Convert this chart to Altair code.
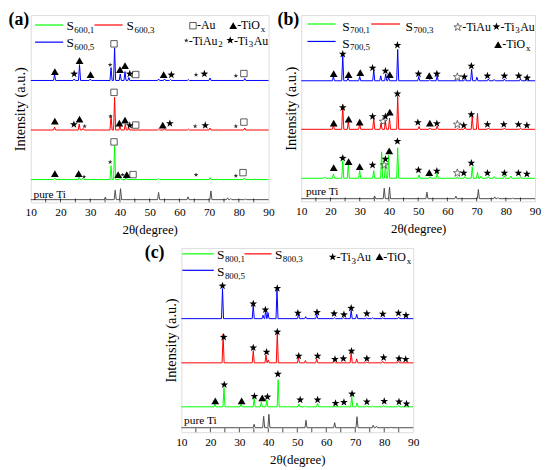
import altair as alt
import pandas as pd

# ================= data =================
# 2θ of the pure-Ti reference peaks (same reference pattern in every panel)
TI_PEAKS = [35.1, 38.4, 40.2, 53.0, 62.9, 70.6, 76.2, 77.3, 82.3]

# ---------- panel (a) ----------
A_TI_BASE = 2.7
A_TI_TOP = [5.3, 12.3, 13.8, 10.0, 5.5, 11.5, 4.5, 3.8, 3.3]
A1_BASE = 23.0
A1_PEAKS = [18.0, 26.3, 27.5, 37.0, 38.2, 40.1, 42.0, 53.0, 70.3, 81.8]
A1_TOP = [24.5, 25.5, 24.3, 37.0, 57.0, 25.0, 25.0, 24.0, 25.0, 24.5]
A3_BASE = 73.0
A3_PEAKS = [18.0, 26.3, 27.6, 37.0, 38.2, 40.0, 41.8, 43.0, 53.0, 55.0, 63.0, 70.3, 82.0]
A3_TOP = [76.0, 79.0, 74.5, 88.0, 106.0, 77.5, 79.0, 75.0, 74.0, 74.5, 74.0, 75.0, 75.0]
A5_BASE = 123.0
A5_PEAKS = [18.0, 24.6, 26.4, 30.0, 37.0, 38.2, 40.1, 41.7, 43.0, 53.0, 55.0, 57.0, 63.0, 70.3, 82.0]
A5_TOP = [129.0, 124.5, 139.0, 124.5, 136.0, 156.0, 129.5, 132.0, 126.0, 124.5, 124.5, 124.0, 124.0, 125.5, 125.0]

A1_MK_X = [18.1, 26.1, 27.9, 36.7, 38.0, 39.4, 40.9, 42.3, 44.4, 65.6, 79.0, 81.4]
A1_MK_Y = [29, 29, 26, 41, 61, 28, 28, 28, 28, 28, 27, 30]
A1_MK_P = ["TiOx", "TiOx", "TiAu2", "TiAu2", "Au", "TiOx", "TiAu2", "TiOx", "Au", "TiAu2", "TiAu2", "Au"]
A3_MK_X = [18.1, 24.5, 26.4, 28.1, 36.8, 38.0, 39.8, 41.7, 43.3, 45.3, 54.4, 56.8, 65.3, 68.7, 79.0, 81.7]
A3_MK_Y = [82, 79, 84, 77, 87, 111, 80, 83, 78, 78, 78, 80, 77, 78, 77, 81]
A3_MK_P = ["TiOx", "Ti3Au", "TiOx", "TiAu2", "TiAu2", "Au", "TiOx", "TiOx", "Ti3Au", "Au",
           "TiOx", "Ti3Au", "TiAu2", "Ti3Au", "TiAu2", "Au"]
A5_MK_X = [18.1, 24.6, 26.4, 30.1, 36.7, 38.0, 40.0, 41.7, 43.3, 45.3, 54.7, 57.3, 65.6, 68.4, 79.0, 81.7]
A5_MK_Y = [132, 130, 143, 129, 139, 160, 134, 138, 130, 129, 129, 129, 129, 130, 128, 130]
A5_MK_P = ["TiOx", "Ti3Au", "TiOx", "TiOx", "TiAu2", "Au", "TiOx", "TiOx", "Ti3Au", "Au",
           "TiOx", "Ti3Au", "TiAu2", "Ti3Au", "TiAu2", "Au"]

# ---------- panel (b) ----------
B_TI_BASE = 2.7
B_TI_TOP = [5.5, 13.3, 14.3, 9.3, 5.3, 12.0, 4.5, 3.8, 3.3]
B1_BASE = 23.3
B1_PEAKS = [18.0, 21.0, 24.2, 26.1, 30.0, 34.8, 37.5, 38.8, 39.9, 43.0, 50.3, 54.0, 56.5,
            63.5, 66.0, 68.5, 70.3, 71.5, 74.0, 76.0, 79.5, 81.7, 85.0]
B1_TOP = [24.5, 27.7, 41.0, 37.7, 31.0, 31.0, 50.0, 37.0, 46.7, 54.0, 26.7, 25.0, 28.7,
          25.0, 25.0, 35.0, 29.3, 25.5, 25.0, 25.0, 26.0, 25.5, 25.0]
B3_BASE = 72.7
B3_PEAKS = [21.0, 24.2, 26.1, 30.0, 34.8, 37.3, 38.8, 40.2, 43.0, 50.3, 54.0, 56.5, 63.5,
            66.0, 68.5, 70.3, 74.0, 79.5, 85.0]
B3_TOP = [77.7, 97.7, 81.0, 78.7, 84.3, 78.7, 81.0, 84.0, 106.0, 75.5, 74.0, 76.0, 73.5,
          74.0, 86.0, 88.7, 74.0, 74.0, 74.0]
B5_BASE = 121.7
B5_PEAKS = [21.0, 24.2, 26.0, 30.0, 34.8, 37.2, 38.9, 39.9, 43.0, 50.2, 54.0, 56.5, 63.5,
            66.0, 68.3, 70.1, 74.0, 76.0, 79.5, 85.0, 87.0]
B5_TOP = [126.0, 147.0, 124.3, 126.0, 132.7, 126.7, 128.7, 125.0, 153.3, 126.0, 123.0, 126.7,
          122.5, 123.0, 133.3, 125.3, 123.5, 123.0, 123.5, 123.5, 122.5]

B1_MK_X = [21.1, 24.2, 26.2, 30.0, 34.4, 38.4, 38.8, 40.1, 42.9, 50.1, 53.8, 56.4, 63.4,
           65.6, 68.2, 73.7, 79.5, 84.3, 87.2]
B1_MK_Y = [34, 44, 40, 35, 37, 37, 43, 51, 61, 32, 29, 31, 29, 29, 39, 29, 29, 29, 28]
B1_MK_P = ["TiOx", "Ti3Au", "TiOx", "TiOx", "Ti3Au", "TiAu", "Ti3Au", "TiOx", "Ti3Au", "Ti3Au",
           "TiOx", "Ti3Au", "TiAu", "Ti3Au", "Ti3Au", "Ti3Au", "Ti3Au", "Ti3Au", "Ti3Au"]
B3_MK_X = [21.1, 24.2, 26.2, 30.0, 34.4, 38.0, 38.8, 40.3, 42.9, 49.9, 54.0, 56.4, 63.4,
           65.6, 68.2, 73.7, 79.3, 84.3, 87.2]
B3_MK_Y = [79, 95, 83, 80, 86, 81, 86, 90, 109, 80, 79, 79, 78, 77, 88, 78, 78, 78, 77]
B3_MK_P = ["TiOx", "Ti3Au", "TiOx", "TiOx", "Ti3Au", "TiAu", "Ti3Au", "TiOx", "Ti3Au", "Ti3Au",
           "TiOx", "Ti3Au", "TiAu", "Ti3Au", "Ti3Au", "Ti3Au", "Ti3Au", "Ti3Au", "Ti3Au"]
B5_MK_X = [21.1, 24.2, 26.2, 30.2, 34.4, 38.8, 40.3, 42.9, 50.1, 53.8, 56.4, 63.4, 65.8,
           68.2, 73.7, 79.5, 84.4, 87.3]
B5_MK_Y = [129, 149, 128, 130, 135, 132, 128, 158, 129, 127, 129, 126, 126, 137, 127, 127, 127, 125]
B5_MK_P = ["TiOx", "Ti3Au", "TiOx", "TiOx", "Ti3Au", "Ti3Au", "TiOx", "Ti3Au", "Ti3Au", "TiOx",
           "Ti3Au", "TiAu", "Ti3Au", "Ti3Au", "Ti3Au", "Ti3Au", "Ti3Au", "Ti3Au"]

# ---------- panel (c) ----------
C_TI_BASE = 4.5
C_TI_TOP = [8.0, 16.0, 18.0, 12.0, 9.6, 15.6, 7.0, 6.0, 5.0]
C1_BASE = 25.6
C1_PEAKS = [21.6, 24.7, 30.6, 35.1, 37.6, 39.5, 43.4, 50.6, 52.8, 57.0, 63.0, 66.0, 68.8,
            70.6, 74.0, 76.0, 79.8, 85.0]
C1_TOP = [28.3, 45.0, 28.3, 34.0, 30.6, 32.3, 53.0, 28.3, 26.3, 29.0, 26.0, 26.0, 36.3,
          29.6, 26.6, 26.5, 27.0, 27.0]
C3_BASE = 70.0
C3_PEAKS = [24.4, 34.8, 39.2, 40.0, 43.1, 50.4, 52.8, 56.7, 62.8, 68.6, 70.5, 74.0, 79.5, 85.0]
C3_TOP = [99.0, 82.3, 78.0, 73.0, 100.6, 75.0, 72.3, 74.0, 71.0, 80.6, 74.0, 71.0, 71.5, 71.5]
C5_BASE = 114.6
C5_PEAKS = [24.2, 34.8, 38.2, 39.1, 39.9, 43.0, 50.4, 52.9, 56.7, 62.8, 66.0, 68.6, 70.5,
            74.0, 76.0, 79.5, 85.0]
C5_TOP = [145.0, 128.0, 118.0, 123.3, 120.6, 144.0, 119.0, 116.6, 119.0, 115.5, 115.5, 123.0,
          119.0, 115.5, 115.5, 115.5, 116.0]

C1_MK_X = [21.7, 24.8, 30.8, 35.2, 37.9, 39.7, 43.3, 51.0, 57.0, 63.2, 66.1, 68.9, 74.0, 80.0, 85.1, 87.7]
C1_MK_Y = [31.6, 48.3, 31.6, 36.6, 34.6, 36.0, 59.0, 33.0, 33.0, 29.6, 30.6, 39.0, 31.0, 31.6, 31.0, 29.0]
C1_MK_P = ["TiOx", "Ti3Au", "TiOx", "Ti3Au", "TiOx", "Ti3Au", "Ti3Au", "Ti3Au", "Ti3Au",
           "Ti3Au", "Ti3Au", "Ti3Au", "Ti3Au", "Ti3Au", "Ti3Au", "Ti3Au"]
C3_MK_X = [24.6, 34.8, 39.4, 43.1, 50.5, 57.0, 63.0, 65.9, 68.7, 74.0, 79.8, 85.1, 87.4]
C3_MK_Y = [96.3, 85.6, 81.3, 101.6, 77.3, 77.3, 74.0, 74.6, 82.3, 74.6, 75.6, 74.6, 74.0]
C3_MK_P = ["Ti3Au"] * 13
C5_MK_X = [24.2, 34.8, 39.0, 43.1, 50.2, 56.8, 62.7, 66.1, 68.6, 74.0, 79.5, 84.9, 87.5]
C5_MK_Y = [148.0, 130.0, 124.0, 145.6, 120.6, 121.3, 120.0, 119.0, 125.6, 120.0, 119.6, 120.6, 118.3]
C5_MK_P = ["Ti3Au"] * 13

X_TICKS = [10, 20, 30, 40, 50, 60, 70, 80, 90]
MINOR_TICKS = [15, 20, 25, 30, 35, 40, 45, 50, 55, 60, 65, 70, 75, 80, 85]

# ================= styling / layout =================
FONT = "Liberation Serif"
HW = 0.35  # half width of a drawn diffraction line (degrees)
COLOR = alt.Scale(domain=["s1", "s3", "s5", "ti"],
                  range=["#00ff00", "#ff0000", "#0000ff", "#4d4d4d"])
STAR = ("M0,-0.905L0.235,-0.229L0.951,-0.214L0.38,0.219L0.588,0.904L0,0.495"
        "L-0.588,0.904L-0.38,0.219L-0.951,-0.214L-0.235,-0.229Z")
PHASE_STYLE = {
    "TiOx": dict(shape="triangle-up", size=62, filled=True, color="black"),
    "Ti3Au": dict(shape=STAR, size=68, filled=True, color="black"),
    "TiAu2": dict(shape=STAR, size=24, filled=True, color="#333333"),
    "Au": dict(shape="square", size=42, filled=False, color="#333333", strokeWidth=0.8),
    "TiAu": dict(shape=STAR, size=68, filled=False, color="#333333", strokeWidth=0.7),
}
CW = {"S": 0.556, ",": 0.25, "-": 0.333, "T": 0.611, "i": 0.278, "A": 0.722,
      "u": 0.5, "O": 0.722, "x": 0.5, " ": 0.25}
LEG_FS, SUB_FS, PH_FS, SUB_DROP = 13.5, 9.0, 12.0, 2.6

LAYOUT = {
    "a": dict(W=240, H=189, tag="(a)", tag_pos=(-1.5, 10.5), temp="600",
              lines=[("s1", 4.3, 32.7, 10.0), ("s3", 64.3, 92.7, 10.0), ("s5", 4.3, 32.7, 27.3)],
              labels=[("1", 36.0, 15.0), ("3", 96.7, 15.0), ("5", 36.0, 32.3)],
              phases=[("Au", 163.7, 10.7, 167.7, 14.5, [("-Au", False)]),
                      ("TiOx", 204.3, 10.7, 208.3, 14.5, [("-TiO", False), ("x", True)]),
                      ("TiAu2", 157.0, 25.5, 159.5, 29.8, [("-TiAu", False), ("2", True)]),
                      ("Ti3Au", 201.3, 25.0, 205.0, 29.8, [("-Ti", False), ("3", True), ("Au", False)])],
              pure=(2.7, 184.3)),
    "b": dict(W=236, H=188, tag="(b)", tag_pos=(-2.0, 9.8), temp="700",
              lines=[("s1", 6.3, 34.7, 9.0), ("s3", 70.7, 99.7, 9.0), ("s5", 6.3, 34.7, 26.6)],
              labels=[("1", 41.3, 15.6), ("3", 105.3, 15.6), ("5", 41.3, 33.0)],
              phases=[("TiAu", 158.0, 11.8, 162.5, 15.6, [("-TiAu", False)]),
                      ("Ti3Au", 197.0, 11.3, 201.0, 15.6, [("-Ti", False), ("3", True), ("Au", False)]),
                      ("TiOx", 198.7, 29.7, 203.0, 33.3, [("-TiO", False), ("x", True)])],
              pure=(4.7, 181.6)),
    "c": dict(W=234, H=186, tag="(c)", tag_pos=(-17.0, 10.3), temp="800",
              lines=[("s1", 1.0, 32.7, 6.0), ("s3", 63.7, 91.0, 6.0), ("s5", 1.0, 32.7, 22.6)],
              labels=[("1", 36.0, 11.6), ("3", 94.4, 11.6), ("5", 36.0, 28.3)],
              phases=[("Ti3Au", 152.7, 8.8, 156.7, 13.3, [("-Ti", False), ("3", True), ("Au", False)]),
                      ("TiOx", 200.0, 8.8, 203.7, 13.3, [("-TiO", False), ("x", True)])],
              pure=(2.7, 177.6)),
}

XAXIS = alt.Axis(values=X_TICKS, format="d", labelFont=FONT, labelFontSize=11.5,
                 labelColor="black", labelPadding=4, labelFlush=False, labelOverlap=False,
                 ticks=False, domain=False, grid=False, title="2θ(degree)", titleFont=FONT,
                 titleFontSize=13, titleFontWeight="normal", titleColor="black", titlePadding=6)
YAXIS = alt.Axis(labels=False, ticks=False, domain=False, grid=False,
                 title="Intensity (a.u.)", titleFont=FONT, titleFontSize=14.5,
                 titleFontWeight="normal", titleColor="black", titlePadding=3)


def width_of(s, fs):
    return sum(CW.get(ch, 0.5) for ch in s) * fs


def runs(x0, base, parts, fs_main):
    out, x = [], x0
    for txt, sub in parts:
        fs = SUB_FS if sub else fs_main
        out.append((x, base + (SUB_DROP if sub else 0.0), txt, fs))
        x += width_of(txt, fs) + 0.4
    return out


def build_panel(key, patterns, markers):
    L = LAYOUT[key]
    W, H = L["W"], L["H"]

    def dx(rx):
        return 10 + rx * 80.0 / W

    def dy(ry):
        return H - ry

    X = alt.X("x:Q", scale=alt.Scale(domain=[10, 90], nice=False, zero=False), axis=XAXIS)
    Y = alt.Y("y:Q", scale=alt.Scale(domain=[0, H], nice=False, zero=False), axis=YAXIS)

    # diffraction traces
    rows = []
    for s, base, pos, top in patterns:
        xs, ys = [10.0], [base]
        for p, t in zip(pos, top):
            xs += [p - HW, p, p + HW]
            ys += [base, t, base]
        xs.append(90.0)
        ys.append(base)
        rows += [dict(x=a, y=b, s=s) for a, b in zip(xs, ys)]
    lines = alt.Chart(pd.DataFrame(rows)).mark_line(strokeWidth=1).encode(
        x=X, y=Y, color=alt.Color("s:N", scale=COLOR, legend=None))

    # legend line samples
    rules_df = pd.DataFrame([dict(x=dx(a), x2=dx(b), y=dy(yy), s=s) for s, a, b, yy in L["lines"]])
    rules = alt.Chart(rules_df).mark_rule(strokeWidth=1.2).encode(
        x=X, x2=alt.X2("x2:Q"), y=Y, color=alt.Color("s:N", scale=COLOR, legend=None))

    # phase markers (peaks + legend symbols)
    mk = {}
    for xs, ys, ps in markers:
        for a, b, p in zip(xs, ys, ps):
            mk.setdefault(p, []).append(dict(x=a, y=b))
    texts = []
    for p, sx, sy, tx, ty, parts in L["phases"]:
        mk.setdefault(p, []).append(dict(x=dx(sx), y=dy(sy)))
        texts += runs(tx, ty, parts, PH_FS)
    point_layers = []
    for p, pts in mk.items():
        st = PHASE_STYLE[p]
        point_layers.append(alt.Chart(pd.DataFrame(pts)).mark_point(opacity=1, **st).encode(x=X, y=Y))

    # legend labels S_{T,n}
    for n, lx, ly in L["labels"]:
        texts += runs(lx, ly, [("S", False), (L["temp"] + "," + n, True)], LEG_FS)
    texts.append((L["pure"][0], L["pure"][1], "pure Ti", 11.5))
    text_df = pd.DataFrame([dict(x=dx(a), y=dy(b), t=t, fs=f) for a, b, t, f in texts])
    text_layer = alt.Chart(text_df).mark_text(font=FONT, align="left", baseline="alphabetic",
                                              color="black").encode(
        x=X, y=Y, text="t:N", size=alt.Size("fs:Q", scale=None))

    tag_df = pd.DataFrame([dict(x=dx(L["tag_pos"][0]), y=dy(L["tag_pos"][1]), t=L["tag"])])
    tag = alt.Chart(tag_df).mark_text(font=FONT, fontWeight="bold", fontSize=18, align="right",
                                      baseline="alphabetic", color="black").encode(x=X, y=Y, text="t:N")

    ticks = alt.Chart(pd.DataFrame({"x": MINOR_TICKS})).mark_tick(
        orient="vertical", color="black", thickness=1, size=4).encode(x=X, y=alt.value(H - 2))

    return alt.layer(lines, rules, *point_layers, text_layer, tag, ticks).properties(width=W, height=H)


TI = TI_PEAKS
pa = build_panel("a",
                 [("ti", A_TI_BASE, TI, A_TI_TOP), ("s1", A1_BASE, A1_PEAKS, A1_TOP),
                  ("s3", A3_BASE, A3_PEAKS, A3_TOP), ("s5", A5_BASE, A5_PEAKS, A5_TOP)],
                 [(A1_MK_X, A1_MK_Y, A1_MK_P), (A3_MK_X, A3_MK_Y, A3_MK_P), (A5_MK_X, A5_MK_Y, A5_MK_P)])
pb = build_panel("b",
                 [("ti", B_TI_BASE, TI, B_TI_TOP), ("s1", B1_BASE, B1_PEAKS, B1_TOP),
                  ("s3", B3_BASE, B3_PEAKS, B3_TOP), ("s5", B5_BASE, B5_PEAKS, B5_TOP)],
                 [(B1_MK_X, B1_MK_Y, B1_MK_P), (B3_MK_X, B3_MK_Y, B3_MK_P), (B5_MK_X, B5_MK_Y, B5_MK_P)])
pc = build_panel("c",
                 [("ti", C_TI_BASE, TI, C_TI_TOP), ("s1", C1_BASE, C1_PEAKS, C1_TOP),
                  ("s3", C3_BASE, C3_PEAKS, C3_TOP), ("s5", C5_BASE, C5_PEAKS, C5_TOP)],
                 [(C1_MK_X, C1_MK_Y, C1_MK_P), (C3_MK_X, C3_MK_Y, C3_MK_P), (C5_MK_X, C5_MK_Y, C5_MK_P)])

spacer = alt.Chart(pd.DataFrame({"x": [0]})).mark_point(opacity=0).encode(
    x=alt.X("x:Q", axis=None), y=alt.Y("x:Q", axis=None)).properties(
    width=152, height=10, view=alt.ViewBackground(stroke="transparent"))

row1 = alt.hconcat(pa, pb, spacing=33, bounds="flush")
row2 = alt.hconcat(spacer, pc, spacing=0, bounds="flush")
chart = alt.vconcat(row1, row2, spacing=6, padding=0).properties(
    background="white").configure_view(stroke="black", strokeWidth=1).configure(font=FONT)

chart.save("out.html", embed_options={"renderer": "svg", "actions": False})
